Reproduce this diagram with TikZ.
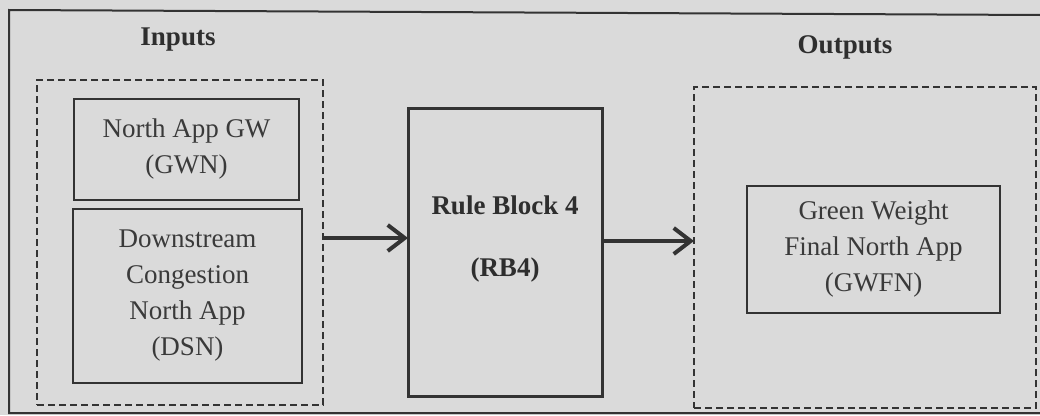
\documentclass[tikz,border=0pt]{standalone}
\usepackage{fontspec}
\setmainfont{Liberation Serif}
\usetikzlibrary{arrows.meta}
\definecolor{bg}{HTML}{DADADA}
\definecolor{ink}{HTML}{333333}
\definecolor{txt}{HTML}{3A3A3A}
\tikzset{
  box/.style={draw=ink, line width=2.2pt, inner sep=0pt, outer sep=0pt, align=center,
    text=txt, font=\fontsize{27}{36}\selectfont},
  dbox/.style={draw=ink, line width=2pt, dash pattern=on 7pt off 4pt, inner sep=0pt, outer sep=0pt},
  head/.style={text=ink!90!black, font=\bfseries\fontsize{27}{36}\selectfont, inner sep=0pt},
  arr/.style={draw=ink, line width=4.5pt, -{Straight Barb[length=17pt, width=26pt, line width=4pt]}},
}
\begin{document}
\begin{tikzpicture}[x=1pt, y=-1pt]
\useasboundingbox[fill=bg] (0,0) rectangle (1040,415);
% outer frame
\draw[ink, line width=2pt] (1040,15) -- (9,10) -- (9,413) -- (1040,413);
% headings
\node[head] (inl) at (178,40) {Inputs};
\node[head] (outl) at (845,47) {Outputs};
% input group
\node[dbox, minimum width=286pt, minimum height=325pt] (inbox) at (180,242.5) {};
\node[box, minimum width=225pt, minimum height=101pt] (gwn) at (186.5,149.5) {North App GW\\(GWN)};
\node[box, minimum width=229pt, minimum height=174pt] (dsn) at (187.5,296) {Downstream\\Congestion\\North App\\(DSN)};
% rule block
\node[box, line width=3pt, minimum width=194pt, minimum height=288pt] (rb) at (505,252) {};
\node[head, align=center, font=\bfseries\fontsize{27}{31}\selectfont] (rbt) at (505,239) {Rule Block 4\\[31pt](RB4)};
% output group
\node[dbox, minimum width=342pt, minimum height=321pt] (outbox) at (865,247.5) {};
\node[box, minimum width=253pt, minimum height=127pt] (gwfn) at (873.5,249.5) {Green Weight\\Final North App\\(GWFN)};
% arrows
\coordinate (a1) at (0,238);
\coordinate (a2) at (0,241);
\draw[arr] (inbox.east |- a1) -- (rb.west |- a1);
\draw[arr] (rb.east |- a2) -- (outbox.west |- a2);
\end{tikzpicture}
\end{document}
